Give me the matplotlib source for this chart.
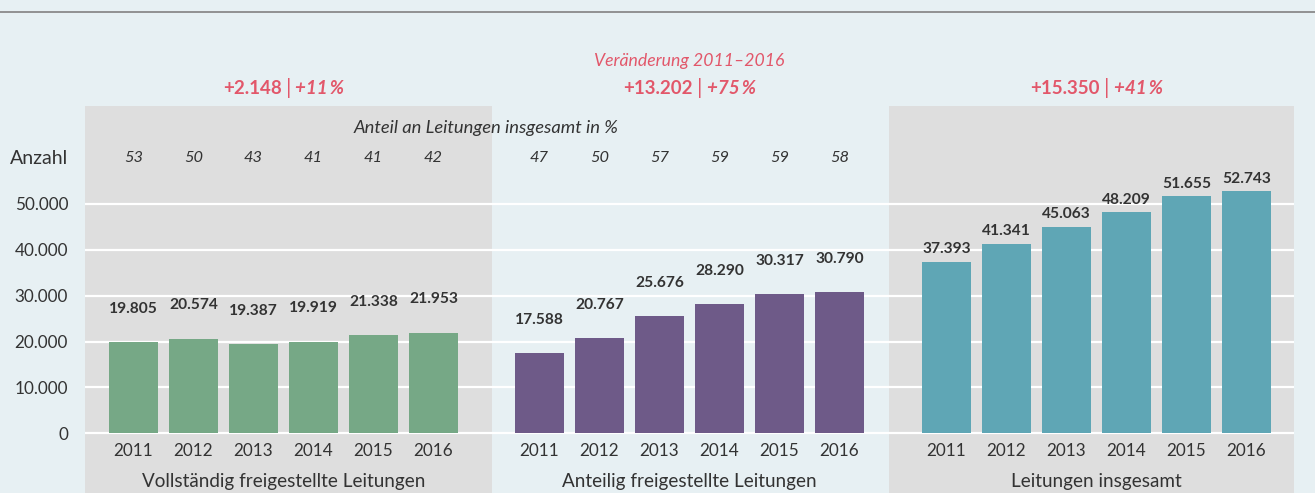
import matplotlib
matplotlib.use("Agg")
import matplotlib.pyplot as plt
import matplotlib.transforms as mtransforms
from matplotlib.lines import Line2D
from matplotlib.offsetbox import TextArea, HPacker, AnnotationBbox

# ---------------- data ----------------
years = ["2011", "2012", "2013", "2014", "2015", "2016"]
group_names = ["Vollständig freigestellte Leitungen",
               "Anteilig freigestellte Leitungen",
               "Leitungen insgesamt"]
voll = [19805, 20574, 19387, 19919, 21338, 21953]
anteilig = [17588, 20767, 25676, 28290, 30317, 30790]
gesamt = [37393, 41341, 45063, 48209, 51655, 52743]
share_voll = [53, 50, 43, 41, 41, 42]
share_anteilig = [47, 50, 57, 59, 59, 58]
change_abs = ["+2.148", "+13.202", "+15.350"]
change_pct = ["+11\u2009%", "+75\u2009%", "+41\u2009%"]
yticks = [0, 10000, 20000, 30000, 40000, 50000]
ytick_labels = ["0", "10.000", "20.000", "30.000", "40.000", "50.000"]

# ---------------- style ----------------
FONT = ["Lato", "DejaVu Sans"]
plt.rcParams["font.family"] = FONT
BG = "#e7f0f3"
PANEL = "#dedede"
TXT = "#333333"
RED = "#e2576a"
colors = ["#76a886", "#6e5a88", "#5fa6b5"]

W, H = 1315, 493
fig = plt.figure(figsize=(W / 100, H / 100), dpi=100, facecolor=BG)

def fy(px):
    return 1 - px / H

ax_left, ax_right, ax_top = 85, 1294, 106
ax = fig.add_axes([ax_left / W, 0, (ax_right - ax_left) / W, fy(ax_top)])
ax.set_facecolor(BG)

px_per_unit = 60.0
x_first = 133.5
xlim0 = -(x_first - ax_left) / px_per_unit
xlim1 = xlim0 + (ax_right - ax_left) / px_per_unit
ax.set_xlim(xlim0, xlim1)

zero_px, px_per_10k = 433.3, 45.86
ylo = -(H - zero_px) / px_per_10k * 10000
yhi = (zero_px - ax_top) / px_per_10k * 10000
ax.set_ylim(ylo, yhi)

group_off = [0.0, (539.5 - x_first) / px_per_unit, (946.5 - x_first) / px_per_unit]
series = [voll, anteilig, gesamt]
label_off_px = [33.5, 33.0, 12.5]

# panels
def px2x(px):
    return xlim0 + (px - ax_left) / px_per_unit

ax.axvspan(px2x(85), px2x(492), color=PANEL, zorder=0.1, lw=0)
ax.axvspan(px2x(889), px2x(1294), color=PANEL, zorder=0.1, lw=0)

# grid
ax.set_yticks(yticks)
ax.set_yticklabels(ytick_labels)
ax.yaxis.grid(True, color="white", lw=1.6)
ax.set_axisbelow(True)
ax.tick_params(axis="y", length=0, pad=12.2, labelsize=12.3, labelcolor=TXT)
ax.set_xticks([])
for s in ax.spines.values():
    s.set_visible(False)

trans = mtransforms.blended_transform_factory(ax.transData, fig.transFigure)

for g, vals in enumerate(series):
    xs = [group_off[g] + i for i in range(len(years))]
    ax.bar(xs, vals, width=49 / px_per_unit, color=colors[g], zorder=2, lw=0)
    for x, v in zip(xs, vals):
        ax.annotate(f"{v:,}".replace(",", "."), (x, v),
                    xytext=(0, label_off_px[g] * 0.72), textcoords="offset points",
                    ha="center", va="center", fontsize=11.2, fontweight="bold",
                    color=TXT)
    for x, yr in zip(xs, years):
        ax.text(x, fy(451), yr, transform=trans, ha="center", va="center",
                fontsize=12.3, color=TXT)
    gc = group_off[g] + 2.5
    ax.text(gc, fy(481), group_names[g], transform=trans, ha="center",
            va="center", fontsize=13.6, color=TXT)

    # change label
    parts = [TextArea(change_abs[g], textprops=dict(fontsize=13.5, fontweight="bold", color=RED, family=FONT)),
             TextArea("|", textprops=dict(fontsize=15.5, fontweight="normal", color=RED, family=FONT)),
             TextArea(change_pct[g], textprops=dict(fontsize=13.5, fontweight="bold", style="italic", color=RED, family=FONT))]
    box = HPacker(children=parts, align="baseline", pad=0, sep=3)
    ab = AnnotationBbox(box, (gc, fy(88)), xycoords=trans, frameon=False,
                        box_alignment=(0.5, 0.5), pad=0)
    ax.add_artist(ab)

# share rows
for g, shares in enumerate([share_voll, share_anteilig]):
    for i, s in enumerate(shares):
        ax.text(group_off[g] + i, fy(158), str(s), transform=trans, ha="center",
                va="center", fontsize=11.8, style="italic", color=TXT)

fig.text(10 / W, fy(158), "Anzahl", ha="left", va="center", fontsize=14, color=TXT)
ax.text((group_off[0] + 5 + group_off[1]) / 2, fy(128),
        "Anteil an Leitungen insgesamt in %", transform=trans, ha="center",
        va="center", fontsize=13.2, style="italic", color=TXT)
ax.text(group_off[1] + 2.5, fy(61), "Veränderung 2011\u20132016", transform=trans,
        ha="center", va="center", fontsize=12.7, style="italic", color=RED)

fig.add_artist(Line2D([0, 1], [fy(12), fy(12)], transform=fig.transFigure,
                      color="#8a8a8a", lw=1.3))

fig.savefig("out.png", dpi=100, facecolor=BG)
